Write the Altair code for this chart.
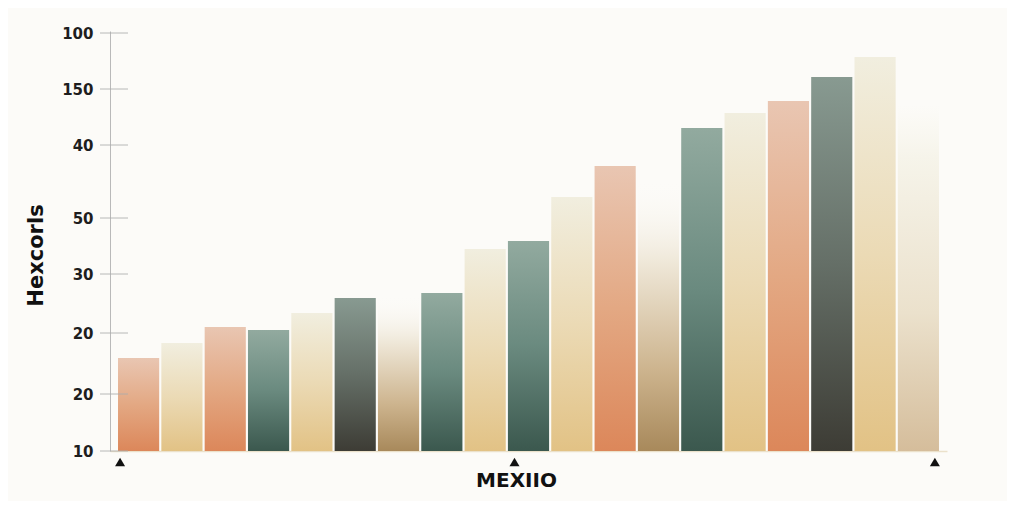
import altair as alt
import pandas as pd

# ---- data ----
categories = ["C01", "C02", "C03", "C04", "C05", "C06", "C07", "C08", "C09", "C10",
              "C11", "C12", "C13", "C14", "C15", "C16", "C17", "C18", "C19"]
values = [93, 108, 124, 121, 138, 153, 156, 158, 202, 210,
          254, 285, 271, 323, 338, 350, 374, 394, 346]
tones = ["salmon", "cream", "salmon", "teal", "cream", "dark", "ghost", "teal", "cream", "teal",
         "cream", "salmon", "ghost", "teal", "cream", "salmon", "dark", "cream", "haze"]
tick_values = [0, 57, 118, 177, 233, 306, 362, 418]
tick_labels = ["10", "20", "20", "30", "50", "40", "150", "100"]
marker_first = ["C01"]
marker_mid = ["C10"]
marker_last = ["C19"]

y_title = "Hexcorls"
x_title = "MEXIIO"

df = pd.DataFrame({"cat": categories, "val": values, "tone": tones})
ticks_df = pd.DataFrame({"val": tick_values})

FONT = "DejaVu Sans"
BG = "#FCFBF8"

label_expr = " : ".join(
    f"datum.value == {v} ? '{l}'" for v, l in zip(tick_values, tick_labels)
) + " : ''"

x_axis = alt.Axis(title=x_title, labels=False, ticks=False, grid=False,
                  domainColor="#EBE1CB", domainWidth=1.5,
                  titleFont=FONT, titleFontSize=20, titleFontWeight="bold",
                  titleColor="#111111", titleX=406, titleY=35,
                  titleAlign="center", titleBaseline="alphabetic")
x_scale = alt.Scale(paddingInner=0.05, paddingOuter=0.185)


def xenc(bp=None):
    if bp is None:
        return alt.X("cat:N", sort=categories, scale=x_scale, axis=x_axis)
    return alt.X("cat:N", sort=categories, scale=x_scale, axis=x_axis, bandPosition=bp)


y = alt.Y("val:Q", scale=alt.Scale(domain=[0, 420], nice=False, zero=True),
          axis=alt.Axis(values=tick_values, labelExpr=label_expr, ticks=False, grid=False,
                        domainColor="#B9B9B9", domainWidth=1, labelPadding=17,
                        labelFont=FONT, labelFontSize=15, labelFontWeight="bold",
                        labelColor="#1E1E1E",
                        title=y_title, titleFont=FONT, titleFontSize=21,
                        titleFontWeight="bold", titleColor="#111111",
                        titleAngle=270, titleX=-68, titleY=224,
                        titleAlign="center", titleBaseline="alphabetic"))


def grad(stops):
    return alt.Gradient(gradient="linear",
                        stops=[alt.GradientStop(color=c, offset=o) for o, c in stops],
                        x1=0, x2=0, y1=0, y2=1)


tone_gradients = {
    "ghost": [(0, "rgba(252,251,248,0)"), (0.3, "#EFE8D9"), (0.7, "#CDB48E"), (1, "#A8895B")],
    "haze": [(0, "rgba(247,246,236,0)"), (0.15, "#F6F4EA"), (0.6, "#EBE1CC"), (1, "#D5BD9B")],
    "salmon": [(0, "#E9C6B2"), (0.5, "#E3A883"), (1, "#DC875A")],
    "cream": [(0, "#F1EEDF"), (0.5, "#EBDAB5"), (1, "#E2C285")],
    "teal": [(0, "#92AA9F"), (0.5, "#6A8A7F"), (1, "#3B584E")],
    "dark": [(0, "#889A91"), (0.5, "#656F67"), (1, "#3D3C35")],
}

layers = []
for tone, stops in tone_gradients.items():
    layers.append(
        alt.Chart(df).transform_filter(alt.datum.tone == tone)
        .mark_bar(color=grad(stops))
        .encode(x=xenc(), y=y)
    )

tick_rules = alt.Chart(ticks_df).mark_rule(color="#ABABAB", strokeWidth=1, opacity=0.85).encode(
    y=y, x=alt.value(-10), x2=alt.value(18)
)


def marker(cats, bp):
    return alt.Chart(pd.DataFrame({"cat": cats})).mark_point(
        shape="triangle-up", filled=True, color="#111111", size=100, opacity=1
    ).encode(x=xenc(bp), y=alt.value(431))


chart = alt.layer(
    *layers, tick_rules,
    marker(marker_first, 0.05), marker(marker_mid, 0.16), marker(marker_last, 0.9)
).properties(
    width=837, height=420,
    autosize=alt.AutoSizeParams(type="none"),
    padding={"left": 102, "top": 23, "right": 60, "bottom": 50},
).configure(background=BG).configure_view(stroke=None)

chart.save("out.html", embed_options={"renderer": "svg", "actions": False})
